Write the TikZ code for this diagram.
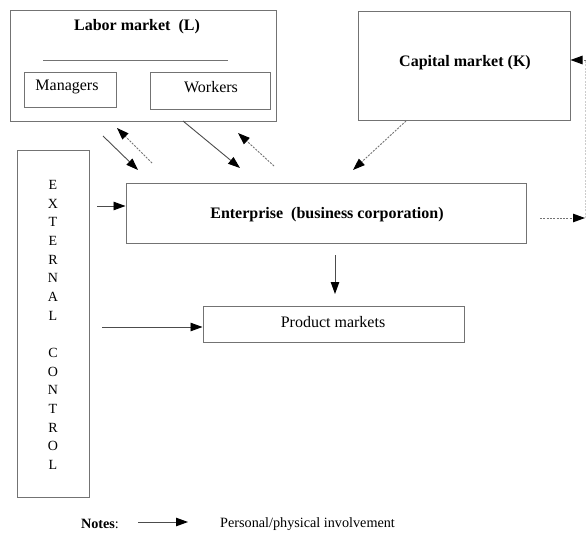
\documentclass[tikz,border=0pt]{standalone}
\usepackage{fontspec}
\setmainfont{Liberation Serif}
\usetikzlibrary{arrows.meta, positioning}

\begin{document}
\begin{tikzpicture}[
    x=1pt, y=-1pt,
    every node/.style={font=\fontsize{16}{19}\selectfont, inner sep=0pt},
    box/.style={draw=black!55, line width=1pt},
    arrow/.style={-{Triangle[length=12pt, width=8.5pt, color=black]}, line width=0.9pt, black!70},
    dotarrow/.style={arrow, black!55, dash pattern=on 2pt off 1.3pt}
]
    \useasboundingbox (0,0) rectangle (586,538);
    % boxes
    \node (labor) [box, minimum width=266pt, minimum height=111pt] at (143,65.5) {};
    \node (title) at (137,27) {\textbf{Labor market\ \ (L)}};
    \draw [black!55, line width=1pt] (43,60) -- (228,60);
    \node (managers) [box, minimum width=92pt, minimum height=35pt] at (70,89.5) {};
    \node at (67,87) {Managers};
    \node (workers) [box, minimum width=120pt, minimum height=37pt] at (210,90.5) {};
    \node at (211,87) {Workers};
    \node (capital) [box, minimum width=212pt, minimum height=109pt] at (464,65.5) {};
    \node at (465,63) {\textbf{Capital market (K)}};
    \node (enterprise) [box, minimum width=400pt, minimum height=60pt] at (326,213) {};
    \node at (327,215) {\textbf{Enterprise\ \ (business corporation)}};
    \node (product) [box, minimum width=261pt, minimum height=36pt] at (333.5,324) {};
    \node at (333,322) {Product markets};
    \node (external) [box, minimum width=72pt, minimum height=347pt] at (53,323.5) {};
    \node (extlabel) [align=center, font=\fontsize{14}{18.67}\selectfont] at (53,325)
        {E\\X\\T\\E\\R\\N\\A\\L\\[18.67pt]C\\O\\N\\T\\R\\O\\L};

    % free ends of the connectors
    \coordinate (m1) at (103,136);  \coordinate (m2) at (138,170);
    \coordinate (m3) at (152,163);  \coordinate (m4) at (117,128);
    \coordinate (w1) at (183,121);  \coordinate (w2) at (240,168);
    \coordinate (w3) at (274,166);  \coordinate (w4) at (238,133);
    \coordinate (k1) at (406,121);  \coordinate (k2) at (353,170);
    \coordinate (x1) at (97,206);   \coordinate (x2) at (102,327);
    \coordinate (e1) at (540,218);  \coordinate (e2) at (585,218);
    \coordinate (r1) at (585.5,60);

    \draw [arrow] (m1) -- (m2);
    \draw [dotarrow] (m3) -- (m4);
    \draw [arrow] (w1) -- (w2);
    \draw [dotarrow] (w3) -- (w4);
    \draw [dotarrow] (k1) -- (k2);
    \draw [arrow] (x1) -- (enterprise.west |- x1);
    \draw [arrow] (x2) -- (product.west |- x2);
    \draw [arrow] (335,255) -- (335,294);
    \draw [dotarrow] (e1) -- (e2);
    \draw [black!20, dash pattern=on 2pt off 1.3pt] (585.5,218) -- (r1);
    \draw [dotarrow] (r1) -- (capital.east |- r1);

    % legend
    \node (notes) [font=\fontsize{14.2}{17}\selectfont] at (100,524) {\textbf{Notes}:};
    \coordinate (n1) at (138,522);  \coordinate (n2) at (188,522);
    \draw [arrow] (n1) -- (n2);
    \node (notetext) [anchor=west, font=\fontsize{14.2}{17}\selectfont] at (220,524) {Personal/physical involvement};
\end{tikzpicture}
\end{document}
